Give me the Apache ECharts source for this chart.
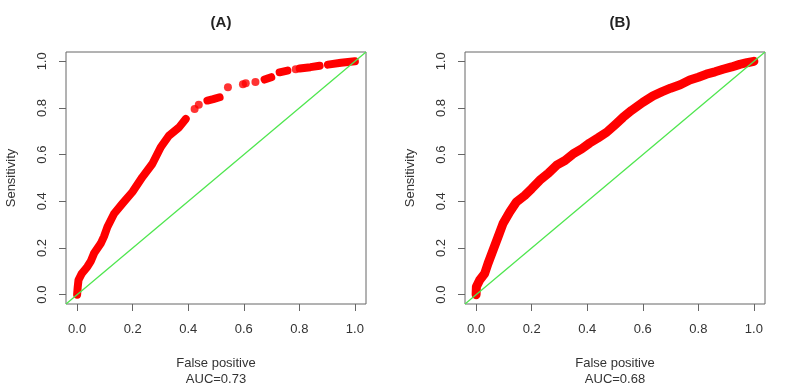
<!DOCTYPE html>
<html>
<head>
<meta charset="utf-8">
<script src="https://cdn.jsdelivr.net/npm/echarts@6/dist/echarts.min.js"></script>
<style>
  html, body { margin: 0; padding: 0; background: #fff; }
  #main { width: 800px; height: 388px; }
</style>
</head>
<body>
<div id="main"></div>
<script>
// axis range, R style (4% padding around 0..1)
const axisMin = -0.04
const axisMax = 1.04
const tickValues = [0, 0.2, 0.4, 0.6, 0.8, 1.0]

const panelTitles = ['(A)', '(B)']
const aucLabels = ['AUC=0.73', 'AUC=0.68']

// panel A: dense part of the curve, null = gap between runs of dots
const aLineFpr = [0, 0.002, 0.005, 0.017, 0.037, 0.05, 0.061, 0.085, 0.097, 0.109, 0.133, 0.163, 0.199, 0.235, 0.271, 0.301, 0.331, 0.367, 0.391,
  null, 0.469, 0.49, 0.513,
  null, 0.675, 0.699,
  null, 0.729, 0.757,
  null, 0.801, 0.84, 0.873,
  null, 0.903, 0.95, 1.0]
const aLineTpr = [0, 0.03, 0.063, 0.091, 0.12, 0.145, 0.177, 0.219, 0.25, 0.29, 0.347, 0.39, 0.44, 0.504, 0.561, 0.632, 0.682, 0.717, 0.753,
  null, 0.832, 0.838, 0.846,
  null, 0.922, 0.932,
  null, 0.953, 0.96,
  null, 0.969, 0.975, 0.981,
  null, 0.986, 0.994, 1.0]
// panel A: single dots
const aDotFpr = [0.423, 0.438, 0.543, 0.597, 0.607, 0.642, 0.787]
const aDotTpr = [0.796, 0.814, 0.889, 0.902, 0.906, 0.911, 0.966]

// panel B
const bFpr = [0, 0.001, 0.013, 0.031, 0.043, 0.061, 0.079, 0.097, 0.121, 0.145, 0.175, 0.2, 0.229, 0.26, 0.29, 0.32, 0.349, 0.38, 0.409, 0.439, 0.47, 0.5, 0.529, 0.56, 0.6, 0.637, 0.67, 0.7, 0.735, 0.769, 0.8, 0.829, 0.86, 0.889, 0.92, 0.949, 0.975, 1.0]
const bTpr = [0, 0.034, 0.063, 0.091, 0.134, 0.191, 0.248, 0.305, 0.354, 0.397, 0.425, 0.454, 0.49, 0.52, 0.555, 0.575, 0.603, 0.625, 0.65, 0.672, 0.696, 0.728, 0.76, 0.79, 0.824, 0.852, 0.87, 0.885, 0.9, 0.92, 0.932, 0.945, 0.955, 0.966, 0.976, 0.987, 0.994, 1.0]

const font = 'Liberation Sans, Arial, sans-serif'
const textColor = '#333'
const frameColor = '#666'

function pairs(xs, ys) {
  return xs.map((x, i) => (x === null ? '-' : [x, ys[i]]))
}

const grids = [
  { left: 66, top: 52, width: 300, height: 252 },
  { left: 465, top: 52, width: 300, height: 252 }
]

function xAxisFor(i) {
  return {
    gridIndex: i,
    type: 'value',
    min: axisMin,
    max: axisMax,
    name: 'False positive\n' + aucLabels[i],
    nameLocation: 'middle',
    nameGap: 51,
    nameTextStyle: { color: textColor, fontSize: 13, fontFamily: font, lineHeight: 16 },
    axisLine: { show: false, onZero: false },
    splitLine: { show: false },
    axisTick: { show: true, length: 7, customValues: tickValues, lineStyle: { color: frameColor } },
    axisLabel: {
      customValues: tickValues,
      margin: 19,
      color: textColor,
      fontSize: 13,
      fontFamily: font,
      formatter: v => v.toFixed(1)
    }
  }
}

function yAxisFor(i) {
  return {
    gridIndex: i,
    type: 'value',
    min: axisMin,
    max: axisMax,
    name: 'Sensitivity',
    nameLocation: 'middle',
    nameGap: 48,
    nameTextStyle: { color: textColor, fontSize: 13, fontFamily: font },
    axisLine: { show: false, onZero: false },
    splitLine: { show: false },
    axisTick: { show: true, length: 7, customValues: tickValues, lineStyle: { color: frameColor } },
    axisLabel: {
      customValues: tickValues,
      rotate: 90,
      margin: 17,
      color: textColor,
      fontSize: 13,
      fontFamily: font,
      formatter: v => v.toFixed(1)
    }
  }
}

function diagonal(i) {
  return {
    type: 'line',
    xAxisIndex: i,
    yAxisIndex: i,
    data: [[axisMin, axisMin], [axisMax, axisMax]],
    symbol: 'none',
    silent: true,
    z: 3,
    lineStyle: { color: '#4fe64f', width: 1.3 }
  }
}

const redLine = width => ({ color: '#ff0000', width: width, cap: 'round', join: 'round' })

const chart = echarts.init(document.getElementById('main'), null, { renderer: 'canvas' })
const option = {
  backgroundColor: '#fff',
  animation: false,
  title: panelTitles.map((t, i) => ({
    text: t,
    left: grids[i].left + grids[i].width / 2,
    top: 10,
    textAlign: 'center',
    textStyle: { fontSize: 15, fontWeight: 'bold', color: '#222', fontFamily: font }
  })),
  grid: grids.map(g => Object.assign({
    show: true,
    borderColor: frameColor,
    borderWidth: 1,
    backgroundColor: 'transparent',
    outerBoundsMode: 'none',
    containLabel: false
  }, g)),
  xAxis: [xAxisFor(0), xAxisFor(1)],
  yAxis: [yAxisFor(0), yAxisFor(1)],
  series: [
    {
      type: 'line',
      xAxisIndex: 0,
      yAxisIndex: 0,
      data: pairs(aLineFpr, aLineTpr),
      symbol: 'none',
      connectNulls: false,
      z: 2,
      lineStyle: redLine(8)
    },
    {
      type: 'scatter',
      xAxisIndex: 0,
      yAxisIndex: 0,
      data: pairs(aDotFpr, aDotTpr),
      symbol: 'circle',
      symbolSize: 8,
      z: 2,
      itemStyle: { color: '#ff0000' }
    },
    diagonal(0),
    {
      type: 'line',
      xAxisIndex: 1,
      yAxisIndex: 1,
      data: pairs(bFpr, bTpr),
      symbol: 'none',
      z: 2,
      lineStyle: redLine(9)
    },
    diagonal(1)
  ]
}
chart.setOption(option)
</script>
</body>
</html>
